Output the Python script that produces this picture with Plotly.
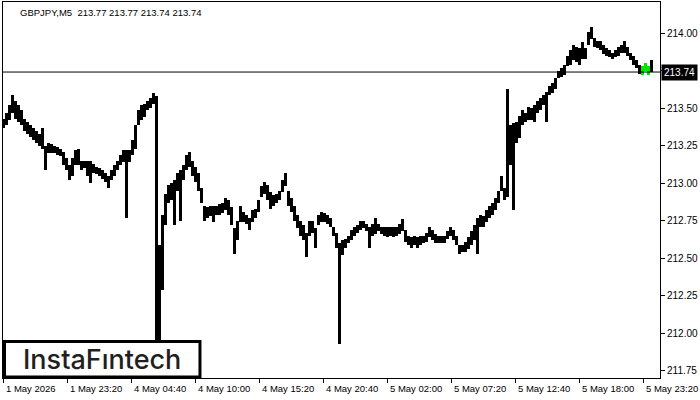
import plotly.graph_objects as go

# ---- data (GBPJPY M5, sampled every 3 bars) ----
bar_index = list(range(0, 649, 3))

highs = [
    213.43, 213.47, 213.52, 213.59, 213.55, 213.52, 213.49, 213.43, 213.41, 213.39,
    213.37, 213.35, 213.33, 213.37, 213.25, 213.27, 213.26, 213.25, 213.24, 213.23,
    213.21, 213.17, 213.12, 213.17, 213.22, 213.23, 213.15, 213.15, 213.15, 213.15,
    213.13, 213.11, 213.10, 213.09, 213.07, 213.05, 213.09, 213.12, 213.15, 213.19,
    213.22, 213.22, 213.22, 213.29, 213.39,
    213.49, 213.52, 213.53, 213.55, 213.57, 213.60, 213.58, 212.59, 212.79, 212.93,
    212.99, 213.00, 213.02, 213.07, 213.09, 213.12, 213.19, 213.21, 213.15, 213.11,
    213.07, 212.97, 212.85, 212.84, 212.85, 212.85, 212.85, 212.86, 212.87, 212.90,
    212.89, 212.84, 212.70, 212.75, 212.85, 212.81, 212.79, 212.77, 212.82, 212.83,
    212.89, 212.98,
    213.01, 212.99, 212.94, 212.92, 212.93, 212.95, 213.02, 213.07, 212.95, 212.90,
    212.85, 212.79, 212.75, 212.72, 212.67, 212.75, 212.75, 212.70, 212.79, 212.81,
    212.80, 212.79, 212.77, 212.71, 212.67, 212.60, 212.62, 212.63, 212.65, 212.69,
    212.71, 212.72, 212.75, 212.75, 212.73, 212.71, 212.73, 212.77, 212.73, 212.71,
    212.71, 212.71, 212.71,
    212.71, 212.71, 212.73, 212.76, 212.69, 212.65, 212.64, 212.65, 212.64, 212.65,
    212.65, 212.67, 212.71, 212.69, 212.66, 212.65, 212.65, 212.65, 212.68, 212.71,
    212.69, 212.65, 212.59, 212.59, 212.61, 212.64, 212.68, 212.72, 212.77, 212.79,
    212.78, 212.82, 212.85, 212.87, 212.90, 212.95, 213.05, 212.97, 213.63, 213.39,
    213.40, 213.41, 213.45,
    213.49, 213.47, 213.51, 213.50, 213.52, 213.55, 213.57, 213.59, 213.61, 213.65,
    213.67, 213.70, 213.75, 213.77, 213.79, 213.85, 213.89, 213.92, 213.91, 213.90,
    213.94, 213.90, 214.01, 214.04, 213.97, 213.95, 213.95, 213.92, 213.90, 213.89,
    213.87, 213.89, 213.91, 213.92, 213.95, 213.91, 213.87, 213.85, 213.82, 213.79,
    213.78, 213.80, 213.78, 213.82,
]

lows = [
    213.37, 213.39, 213.42, 213.47, 213.43, 213.41, 213.39, 213.35, 213.33, 213.31,
    213.29, 213.27, 213.25, 213.23, 213.09, 213.20, 213.20, 213.20, 213.19, 213.18,
    213.12, 213.09, 213.02, 213.05, 213.12, 213.12, 213.09, 213.10, 213.05, 213.00,
    213.07, 213.06, 213.05, 213.03, 213.01, 212.97, 213.02, 213.05, 213.09, 213.12,
    213.14, 212.77, 213.14, 213.19, 213.23,
    213.39, 213.42, 213.44, 213.49, 213.50, 213.53, 211.95, 211.95, 212.29, 212.72,
    212.87, 212.89, 212.72, 212.95, 212.75, 213.02, 213.09, 213.11, 213.05, 213.01,
    212.95, 212.87, 212.75, 212.77, 212.78, 212.74, 212.79, 212.79, 212.80, 212.82,
    212.79, 212.72, 212.53, 212.62, 212.74, 212.74, 212.73, 212.69, 212.74, 212.77,
    212.81, 212.91,
    212.93, 212.89, 212.83, 212.85, 212.87, 212.89, 212.94, 212.98, 212.85, 212.81,
    212.75, 212.70, 212.65, 212.62, 212.51, 212.65, 212.67, 212.57, 212.72, 212.74,
    212.74, 212.73, 212.71, 212.65, 212.57, 211.93, 212.52, 212.57, 212.60, 212.62,
    212.65, 212.67, 212.69, 212.70, 212.68, 212.57, 212.65, 212.66, 212.68, 212.66,
    212.65, 212.64, 212.65,
    212.64, 212.65, 212.66, 212.68, 212.61, 212.59, 212.57, 212.59, 212.57, 212.59,
    212.60, 212.61, 212.64, 212.62, 212.60, 212.60, 212.60, 212.60, 212.63, 212.65,
    212.62, 212.59, 212.53, 212.54, 212.54, 212.56, 212.59, 212.62, 212.53, 212.71,
    212.71, 212.74, 212.77, 212.79, 212.82, 212.87, 212.95, 212.89, 212.91, 213.12,
    212.82, 213.27, 213.30,
    213.39, 213.41, 213.42, 213.42, 213.41, 213.47, 213.49, 213.52, 213.41, 213.59,
    213.60, 213.63, 213.70, 213.71, 213.72, 213.78, 213.79, 213.82, 213.81, 213.79,
    213.83, 213.83, 213.92, 213.96, 213.91, 213.90, 213.89, 213.86, 213.85, 213.84,
    213.83, 213.84, 213.85, 213.87, 213.87, 213.85, 213.82, 213.79, 213.77, 213.73,
    213.72, 213.75, 213.72, 213.74,
]

pattern_bars = [639, 642, 645]          # highlighted (green) bars
last_price = 213.74
header = "GBPJPY,M5  213.77 213.77 213.74 213.74"

x_tick_index = [0, 64, 128, 192, 256, 320, 384, 448, 512, 576, 640]
x_tick_labels = ["1 May 2026", "1 May 23:20", "4 May 04:40", "4 May 10:00",
                 "4 May 15:20", "4 May 20:40", "5 May 02:00", "5 May 07:20",
                 "5 May 12:40", "5 May 18:00", "5 May 23:20"]
y_tick_values = [211.75, 212.00, 212.25, 212.50, 212.75, 213.00, 213.25, 213.50, 213.75, 214.00]
y_tick_labels = ["211.75", "212.00", "212.25", "212.50", "212.75",
                 "213.00", "213.25", "213.50", "", "214.00"]

FONT = "Liberation Sans"

spans = [h - l for h, l in zip(highs, lows)]
colors = ["#00e600" if i in pattern_bars else "black" for i in bar_index]

fig = go.Figure()
fig.add_trace(go.Bar(
    x=bar_index, y=spans, base=lows, width=3,
    marker=dict(color=colors, line=dict(width=0)),
    hoverinfo="skip",
))

# current price line
fig.add_shape(type="line", xref="paper", x0=0, x1=1, yref="y",
              y0=last_price, y1=last_price, line=dict(color="black", width=1))

# logo box
fig.add_shape(type="rect", xref="paper", yref="paper",
              x0=0.0023, x1=0.2998, y0=0.0027, y1=0.097,
              line=dict(color="black", width=3), fillcolor="white", layer="above")

annotations = []
for xi, lab in zip(x_tick_index, x_tick_labels):
    annotations.append(dict(x=xi, xref="x", y=0, yref="paper", text=lab,
                            xanchor="left", yanchor="top", yshift=-3, xshift=0,
                            showarrow=False, font=dict(family=FONT, size=9.5, color="black")))
annotations.append(dict(x=0.0228, xref="paper", y=0.9734, yref="paper", text=header,
                        xanchor="left", yanchor="middle", showarrow=False,
                        font=dict(family=FONT, size=9.5, color="black")))
annotations.append(dict(x=1, xref="paper", y=last_price, yref="y", text=f"{last_price:.2f}",
                        xanchor="left", yanchor="middle", xshift=1, showarrow=False,
                        bgcolor="black", borderpad=2,
                        font=dict(family=FONT, size=10, color="white")))
annotations.append(dict(x=0.1507, xref="paper", y=0.048, yref="paper", text="InstaFıntech",
                        xanchor="center", yanchor="middle", showarrow=False,
                        font=dict(family="Inter", size=27, color="#231f20", weight=500)))

fig.update_layout(
    width=700, height=400,
    margin=dict(l=3, r=40, t=2, b=22),
    plot_bgcolor="white", paper_bgcolor="white",
    showlegend=False, bargap=0,
    annotations=annotations,
    xaxis=dict(range=[-0.5, 656.5], showline=True, mirror=True, linecolor="black",
               linewidth=1, ticks="outside", ticklen=4, tickcolor="black",
               tickvals=x_tick_index, showticklabels=False,
               showgrid=False, zeroline=False),
    yaxis=dict(range=[211.70, 214.207], side="right", showline=True, mirror=True,
               linecolor="black", linewidth=1, ticks="outside", ticklen=4,
               tickcolor="black", tickvals=y_tick_values, ticktext=y_tick_labels,
               tickfont=dict(family=FONT, size=10, color="black"),
               showgrid=False, zeroline=False),
)

fig.write_html("out.html", config={"displayModeBar": False},
               post_script="document.body.style.margin='0px';")
